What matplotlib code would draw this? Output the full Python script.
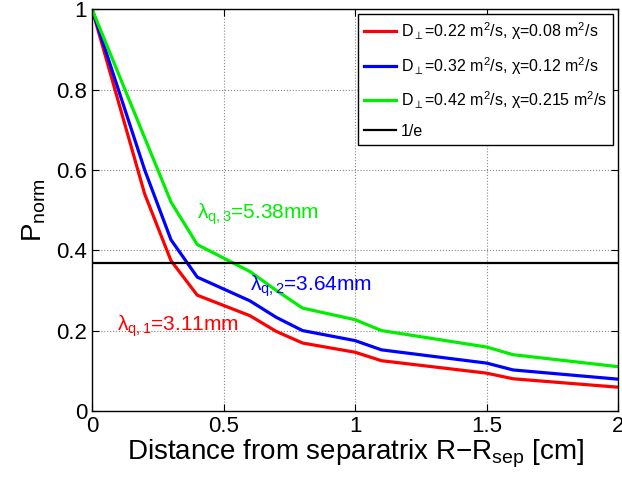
"""P_norm profiles vs distance from separatrix."""
import matplotlib
matplotlib.use("Agg")
import matplotlib.pyplot as plt
import numpy as np

plt.rcParams["font.family"] = ["Liberation Sans", "DejaVu Sans"]
plt.rcParams["mathtext.fontset"] = "custom"
plt.rcParams["mathtext.rm"] = "Liberation Sans"
plt.rcParams["mathtext.it"] = "Liberation Sans"
plt.rcParams["mathtext.bf"] = "Liberation Sans:bold"

# data
dist = [0, 0.1, 0.2, 0.3, 0.4, 0.6, 0.7, 0.8, 1.0, 1.1, 1.5, 1.6, 2.0]
p_red = [1.0, 0.77, 0.54, 0.374, 0.288, 0.237, 0.198, 0.169, 0.146, 0.125, 0.094, 0.080, 0.059]
p_blue = [1.0, 0.80, 0.60, 0.426, 0.333, 0.274, 0.233, 0.200, 0.175, 0.152, 0.119, 0.102, 0.079]
p_green = [1.0, 0.84, 0.68, 0.52, 0.414, 0.347, 0.300, 0.256, 0.227, 0.200, 0.159, 0.140, 0.110]
labels = [r"D$_\perp$=0.22 m$^2$/s, $\chi$=0.08 m$^2$/s",
          r"D$_\perp$=0.32 m$^2$/s, $\chi$=0.12 m$^2$/s",
          r"D$_\perp$=0.42 m$^2$/s, $\chi$=0.215 m$^2$/s"]
colors = ["#ff0000", "#0000ff", "#00ee00"]
inv_e = np.exp(-1)

fig = plt.figure(figsize=(6.22, 4.84), dpi=100)
ax = fig.add_axes([0.148, 0.151, 0.846, 0.830])

for p, lab, c in zip([p_red, p_blue, p_green], labels, colors):
    ax.plot(dist, p, color=c, lw=2.3, label=lab)
ax.axhline(inv_e, color="black", lw=1.6, label="1/e")

ax.text(0.095, 0.21, r"$\lambda_{q,1}$=3.11mm", color="#ff0000", fontsize=15, va="center")
ax.text(0.60, 0.31, r"$\lambda_{q,2}$=3.64mm", color="#0000ff", fontsize=15, va="center")
ax.text(0.40, 0.49, r"$\lambda_{q,3}$=5.38mm", color="#00ee00", fontsize=15, va="center")

ax.set_xlim(0, 2)
ax.set_ylim(0, 1)
ax.set_xticks([0, 0.5, 1, 1.5, 2])
ax.set_xticklabels(["0", "0.5", "1", "1.5", "2"])
ax.set_yticks([0, 0.2, 0.4, 0.6, 0.8, 1])
ax.set_yticklabels(["0", "0.2", "0.4", "0.6", "0.8", "1"])
ax.tick_params(direction="in", top=True, right=True, labelsize=16, length=5, width=0.8)
ax.grid(True, linestyle=":", color="#888888", lw=0.8)
for s in ax.spines.values():
    s.set_linewidth(1.0)

ax.set_xlabel(r"Distance from separatrix R$-$R$_{\rm sep}$ [cm]", fontsize=20, labelpad=1)
ax.set_ylabel(r"P$_{\rm norm}$", fontsize=20, labelpad=6)

leg = ax.legend(loc="upper right", fontsize=11.5, frameon=True, fancybox=False,
                edgecolor="black", framealpha=1, handlelength=2.0, borderaxespad=0.3,
                labelspacing=0.8, handletextpad=0.3)
leg.get_frame().set_linewidth(1.0)

fig.savefig("out.png", dpi=100)
